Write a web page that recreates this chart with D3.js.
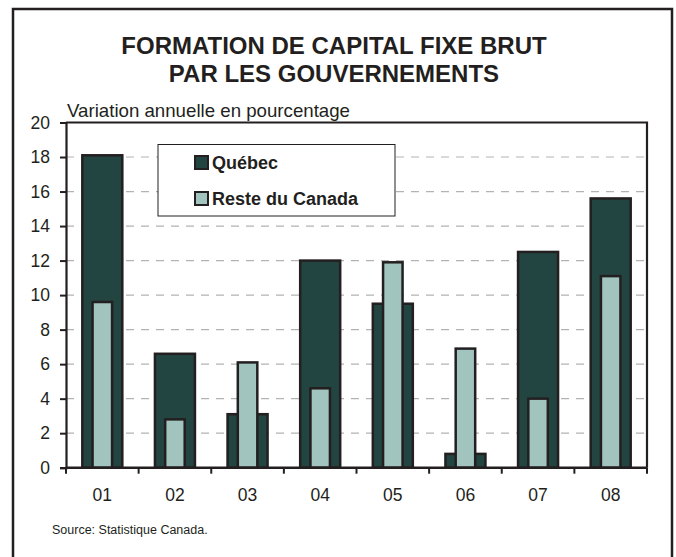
<!DOCTYPE html>
<html><head><meta charset="utf-8">
<script src="https://cdn.jsdelivr.net/npm/d3@7"></script>
<style>body{margin:0;background:#fff}svg{display:block;font-family:"Liberation Sans",Arial,sans-serif}</style>
</head><body><svg id="c" width="676" height="557"></svg>
<script>
const categories = ["01","02","03","04","05","06","07","08"];
const quebec = [18.1, 6.6, 3.1, 12.0, 9.5, 0.8, 12.5, 15.6];
const reste = [9.6, 2.8, 6.1, 4.6, 11.9, 6.9, 4.0, 11.1];
const yTicks = [0,2,4,6,8,10,12,14,16,18,20];
const seriesNames = ["Québec","Reste du Canada"];

const svg = d3.select("#c");
const L = 66, R = 647, T = 122.5, B = 467.7;
const x = d3.scaleBand().domain(categories).range([L, R]);
const y = d3.scaleLinear().domain([0, 20]).range([B, T]);

// outer frame
svg.append("rect").attr("x", 13).attr("y", 9).attr("width", 659).attr("height", 560)
  .attr("fill", "none").attr("stroke", "#231f20").attr("stroke-width", 2.5);

// title
svg.append("text").attr("x", 334).attr("y", 54).attr("text-anchor", "middle")
  .attr("font-weight", "bold").attr("font-size", 24).attr("fill", "#231f20").text("FORMATION DE CAPITAL FIXE BRUT");
svg.append("text").attr("x", 334).attr("y", 82).attr("text-anchor", "middle")
  .attr("font-weight", "bold").attr("font-size", 24).attr("fill", "#231f20").text("PAR LES GOUVERNEMENTS");

svg.append("text").attr("x", 67).attr("y", 117).attr("font-size", 18.5).attr("fill", "#231f20")
  .attr("textLength", 283).attr("lengthAdjust", "spacingAndGlyphs")
  .text("Variation annuelle en pourcentage");

// gridlines
svg.append("g").selectAll("line").data(yTicks.filter(d => d > 0 && d < 20)).join("line")
  .attr("x1", L).attr("x2", R).attr("y1", d => y(d)).attr("y2", d => y(d))
  .attr("stroke", "#b3b3b3").attr("stroke-width", 1.2).attr("stroke-dasharray", "8,7");

// legend
const lg = svg.append("g");
lg.append("rect").attr("x", 158).attr("y", 144.5).attr("width", 237).attr("height", 71.5)
  .attr("fill", "#fff").attr("stroke", "#231f20").attr("stroke-width", 1);
const colors = ["#234541", "#a2c4be"];
seriesNames.forEach((n, i) => {
  const cy = [162.5, 198.5][i];
  lg.append("rect").attr("x", 195).attr("y", cy - 6.5).attr("width", 13).attr("height", 13)
    .attr("fill", colors[i]).attr("stroke", "#231f20").attr("stroke-width", 2);
  lg.append("text").attr("x", 212).attr("y", cy + 6).attr("font-size", 18).attr("font-weight", "bold")
    .attr("fill", "#231f20").text(n);
});

// bars
const bw = x.bandwidth();
const qW = 40, rW = 19.5;
svg.append("g").selectAll("rect").data(quebec).join("rect")
  .attr("x", (d, i) => x(categories[i]) + bw / 2 - qW / 2).attr("width", qW)
  .attr("y", d => y(d)).attr("height", d => B - y(d))
  .attr("fill", colors[0]).attr("stroke", "#231f20").attr("stroke-width", 2.5);
svg.append("g").selectAll("rect").data(reste).join("rect")
  .attr("x", (d, i) => x(categories[i]) + bw / 2 - rW / 2).attr("width", rW)
  .attr("y", d => y(d)).attr("height", d => B - y(d))
  .attr("fill", colors[1]).attr("stroke", "#231f20").attr("stroke-width", 2.5);

// plot frame top/right
svg.append("path").attr("d", `M${L},${T}H${R}V${B}`).attr("fill", "none")
  .attr("stroke", "#231f20").attr("stroke-width", 2.2);

// y axis
const ya = svg.append("g").attr("transform", `translate(${L},0)`)
  .call(d3.axisLeft(y).tickValues(yTicks).tickSize(6).tickPadding(10).tickFormat(d3.format("d")));
ya.select(".domain").attr("stroke", "#231f20").attr("stroke-width", 2.2);
ya.selectAll(".tick line").attr("stroke", "#231f20").attr("stroke-width", 2);
ya.selectAll("text").attr("font-size", 17.5).attr("fill", "#231f20").attr("font-family", "Liberation Sans, Arial, sans-serif");

// x axis
const xa = svg.append("g").attr("transform", `translate(0,${B})`)
  .call(d3.axisBottom(x).tickSize(0).tickPadding(21));
xa.select(".domain").attr("d", `M${L},0H${R}`).attr("stroke", "#231f20").attr("stroke-width", 2.5);
xa.selectAll("text").attr("font-size", 17.5).attr("fill", "#231f20").attr("font-family", "Liberation Sans, Arial, sans-serif");
const bounds = categories.map(c => x(c)).concat([R]);
xa.append("g").selectAll("line").data(bounds).join("line")
  .attr("x1", d => d).attr("x2", d => d).attr("y1", 0).attr("y2", 6)
  .attr("stroke", "#231f20").attr("stroke-width", 2);

svg.append("text").attr("x", 52).attr("y", 534).attr("font-size", 12.5).attr("fill", "#231f20")
  .text("Source: Statistique Canada.");
</script></body></html>
